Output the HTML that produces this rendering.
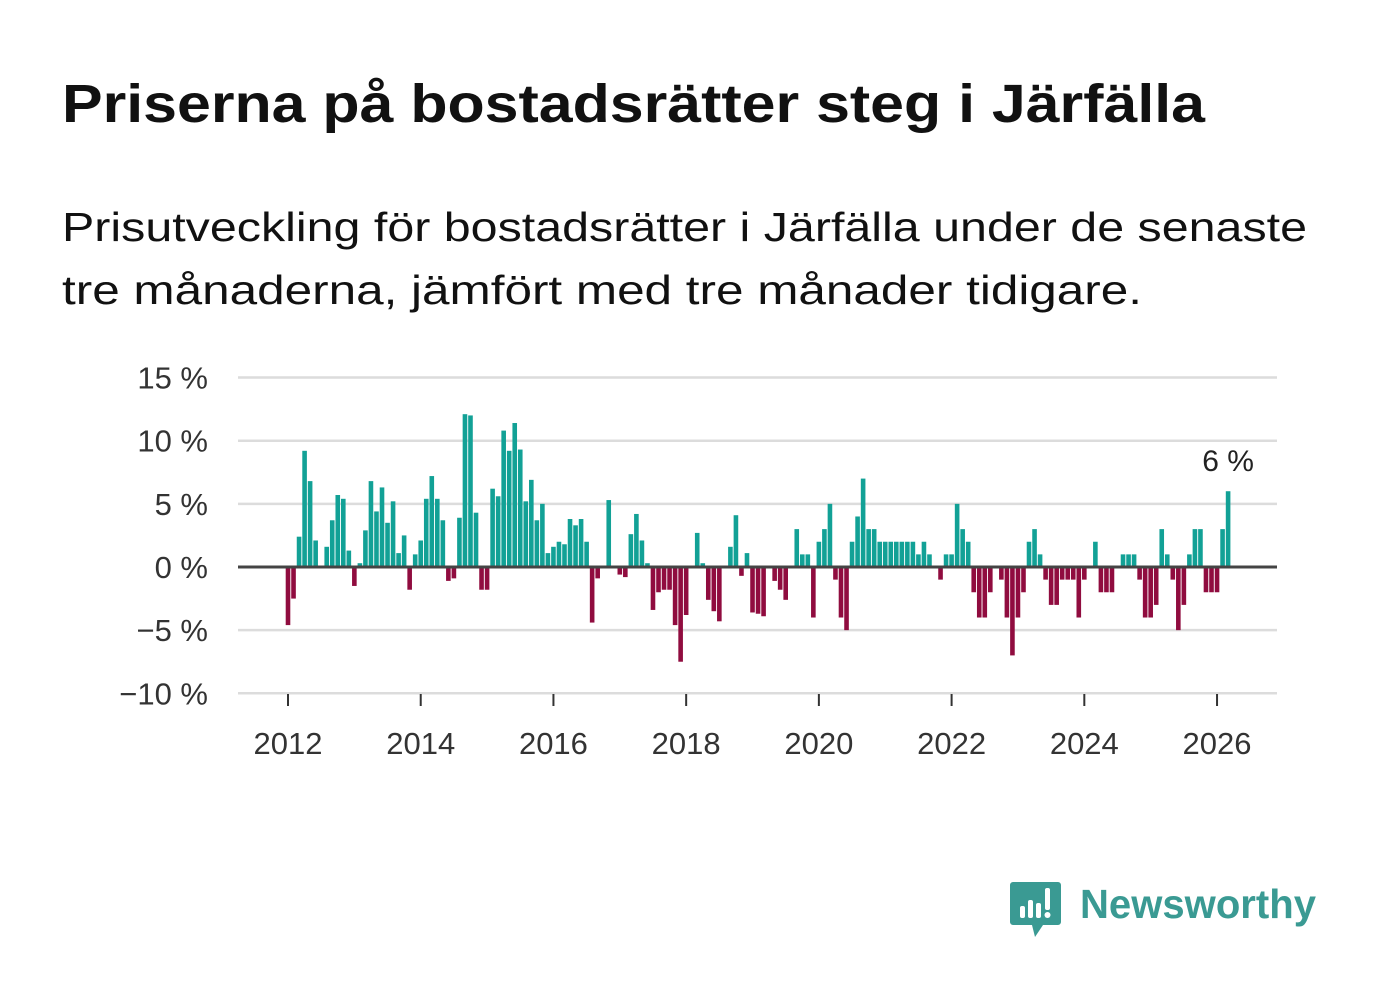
<!DOCTYPE html>
<html><head><meta charset="utf-8"><style>
html,body{margin:0;padding:0;background:#fff;}
svg{display:block;font-family:"Liberation Sans","DejaVu Sans",sans-serif;}
</style></head><body>
<svg id="chart" width="1382" height="999" viewBox="0 0 1382 999">
<text x="62" y="122" font-size="54" font-weight="bold" fill="#111" textLength="1143" lengthAdjust="spacingAndGlyphs">Priserna på bostadsrätter steg i Järfälla</text>
<text x="62" y="241" font-size="41" fill="#111" textLength="1245" lengthAdjust="spacingAndGlyphs">Prisutveckling för bostadsrätter i Järfälla under de senaste</text>
<text x="62" y="304" font-size="41" fill="#111" textLength="1080" lengthAdjust="spacingAndGlyphs">tre månaderna, jämfört med tre månader tidigare.</text>
<g id="grid"></g><g id="bars"></g><g id="xaxis"></g>
<g>
<path d="M1013 882 h45 a3 3 0 0 1 3 3 v37 a3 3 0 0 1 -3 3 h-15 l-8 12 l-3 -12 h-19 a3 3 0 0 1 -3 -3 v-37 a3 3 0 0 1 3 -3z" fill="#3a9a93"/>
<rect x="1020" y="906" width="5" height="12" rx="2" fill="#fff"/><rect x="1028" y="900" width="5" height="18" rx="2" fill="#fff"/><rect x="1036" y="903" width="5" height="15" rx="2" fill="#fff"/><rect x="1045" y="888" width="5" height="22" rx="2" fill="#fff"/><circle cx="1047.5" cy="915" r="3" fill="#fff"/>
<text x="1080" y="918" font-size="41" font-weight="bold" fill="#3a9a93" textLength="236" lengthAdjust="spacingAndGlyphs">Newsworthy</text>
</g>
</svg>
<script>
const yTicks=[15,10,5,0,-5,-10];
const yTickLabels=["15 %","10 %","5 %","0 %","\u22125 %","\u221210 %"];
const xTicks=[2012,2014,2016,2018,2020,2022,2024,2026];
const startYear=2012;
const values=[
-4.6,-2.5,2.4,9.2,6.8,2.1,0,1.6,3.7,5.7,5.4,1.3,
-1.5,0.3,2.9,6.8,4.4,6.3,3.5,5.2,1.1,2.5,-1.8,1.0,
2.1,5.4,7.2,5.4,3.7,-1.1,-0.9,3.9,12.1,12.0,4.3,-1.8,
-1.8,6.2,5.6,10.8,9.2,11.4,9.3,5.2,6.9,3.7,5.0,1.1,
1.6,2.0,1.8,3.8,3.3,3.8,2.0,-4.4,-0.9,0,5.3,0,
-0.6,-0.8,2.6,4.2,2.1,0.3,-3.4,-2.0,-1.8,-1.8,-4.6,-7.5,
-3.8,0,2.7,0.3,-2.6,-3.5,-4.3,0,1.6,4.1,-0.7,1.1,
-3.6,-3.7,-3.9,0,-1.1,-1.8,-2.6,0,3,1,1,-4,
2,3,5,-1,-4,-5,2,4,7,3,3,2,
2,2,2,2,2,2,1,2,1,0,-1,1,
1,5,3,2,-2,-4,-4,-2,0,-1,-4,-7,
-4,-2,2,3,1,-1,-3,-3,-1,-1,-1,-4,
-1,0,2,-2,-2,-2,0,1,1,1,-1,-4,
-4,-3,3,1,-1,-5,-3,1,3,3,-2,-2,
-2,3,6];
const lastLabel="6 %";
const NS="http://www.w3.org/2000/svg";
const x0=288, yearW=66.36, monthW=yearW/12;
const y=v=>567-v*12.63;
const x=i=>x0+i*monthW;
function mk(t,a,p){const e=document.createElementNS(NS,t);for(const k in a)e.setAttribute(k,a[k]);p.appendChild(e);return e;}
const grid=document.getElementById('grid');
yTicks.forEach((t,i)=>{
 const l=mk('line',{x1:238,x2:1277,y1:y(t),y2:y(t),stroke:'#dcdcdc','stroke-width':2.5},grid);
 
 
 const tx=mk('text',{x:208,y:y(t)+11,'font-size':31,fill:'#333','text-anchor':'end'},grid);
 tx.textContent=yTickLabels[i];
 
 
});
const bars=document.getElementById('bars');
values.forEach((v,i)=>{
 if(v===0)return;
 const r=mk('rect',{x:x(i)-2.3,width:4.6,y:Math.min(y(v),y(0)),height:Math.abs(y(v)-y(0)),fill:v>0?'#12a196':'#900c3f'},bars);
 
 
});
const z=mk('line',{x1:238,x2:1277,y1:y(0),y2:y(0),stroke:'#444','stroke-width':3},bars);


const li=values.length-1;
const lab=mk('text',{x:x(li),y:y(values[li])-20,'font-size':30,fill:'#222','text-anchor':'middle'},bars);
lab.textContent=lastLabel;


const xa=document.getElementById('xaxis');
xTicks.forEach(t=>{
 const xx=x((t-startYear)*12);
 const l=mk('line',{x1:xx,x2:xx,y1:694,y2:706,stroke:'#333','stroke-width':2},xa);
 
 
 const tx=mk('text',{x:xx,y:754,'font-size':31,fill:'#333','text-anchor':'middle'},xa);
 tx.textContent=t;
 
 
});
</script>
</body></html>
